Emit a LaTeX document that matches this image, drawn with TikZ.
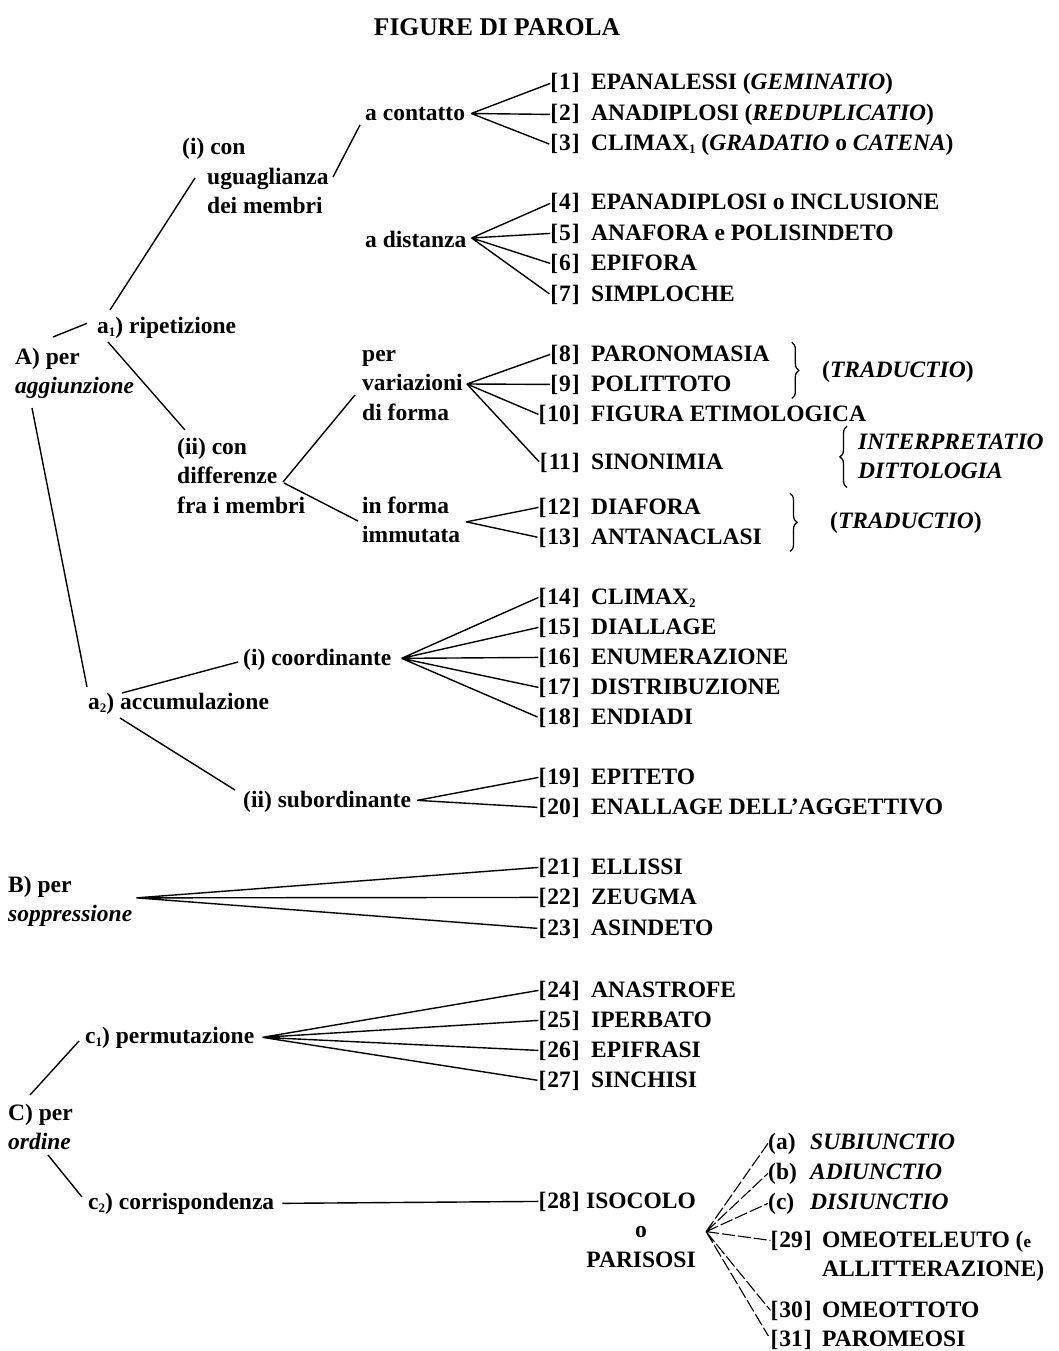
\documentclass[tikz,border=0pt]{standalone}
\usepackage{fontspec}
\setmainfont{Liberation Serif}
\usetikzlibrary{calc,decorations.pathreplacing}

\newcommand{\mlab}[1]{\begin{tabular}[t]{@{}l@{}}#1\end{tabular}}
\newcommand{\lowidx}[1]{\raisebox{-3pt}{\fontsize{13}{13}\selectfont #1}}

\tikzset{
  lab/.style={inner sep=0pt, anchor=base west},
  num/.style={inner sep=0pt, anchor=base east},
  edge/.style={line width=1.4pt},
  fan/.style={line width=1.4pt, shorten >=1pt},
  faint/.style={line width=1.1pt, dash pattern=on 13pt off 3pt, shorten >=4pt},
  curly/.style={decorate, decoration={brace, amplitude=7pt}, line width=1.3pt}
}

\begin{document}
\begin{tikzpicture}[x=1pt,y=-1pt,font=\fontsize{23.5}{29.5}\selectfont\bfseries]

    \useasboundingbox (0,0) rectangle (1058,1351);

    \node[anchor=base, font=\fontsize{25.5}{30}\selectfont\bfseries] (title) at (497,36) {FIGURE DI PAROLA};

    % left side: the classes
    \node[lab] (A) at (15,364) {\mlab{A) per\\\textit{aggiunzione}}};
    \node[lab] (a1) at (97,333) {a\lowidx{1}) ripetizione};
    \node[lab] (ui) at (182,155) {\mlab{(i) con\\\hspace*{25pt}uguaglianza\\\hspace*{25pt}dei membri}};
    \node[lab] (ac) at (365,121) {a contatto};
    \node[lab] (ad) at (365,247) {a distanza};
    \node[lab] (di) at (177,454) {\mlab{(ii) con\\differenze\\fra i membri}};
    \node[lab] (pv) at (362,361) {\mlab{per\\variazioni\\di forma}};
    \node[lab] (fi) at (362,513) {\mlab{in forma\\immutata}};
    \node[lab] (a2) at (88,709) {a\lowidx{2}) accumulazione};
    \node[lab] (co) at (243,665) {(i) coordinante};
    \node[lab] (su) at (243,807) {(ii) subordinante};
    \node[lab] (B) at (8,892) {\mlab{B) per\\\textit{soppressione}}};
    \node[lab] (C) at (8,1120) {\mlab{C) per\\\textit{ordine}}};
    \node[lab] (c1) at (85,1043) {c\lowidx{1}) permutazione};
    \node[lab] (c2) at (88,1209) {c\lowidx{2}) corrispondenza};

    % right side: the figures
    \node[num] (n1) at (580,90) {[\kern1pt1\kern1pt]};
    \node[lab] (t1) at (591,90) {EPANALESSI (\textit{GEMINATIO})};
    \node[num] (n2) at (580,121) {[\kern1pt2\kern1pt]};
    \node[lab] (t2) at (591,121) {ANADIPLOSI (\textit{REDUPLICATIO})};
    \node[num] (n3) at (580,151) {[\kern1pt3\kern1pt]};
    \node[lab] (t3) at (591,151) {CLIMAX\lowidx{1} (\textit{GRADATIO} o \textit{CATENA})};
    \node[num] (n4) at (580,210) {[\kern1pt4\kern1pt]};
    \node[lab] (t4) at (591,210) {EPANADIPLOSI o INCLUSIONE};
    \node[num] (n5) at (580,240) {[\kern1pt5\kern1pt]};
    \node[lab] (t5) at (591,240) {ANAFORA e POLISINDETO};
    \node[num] (n6) at (580,270) {[\kern1pt6\kern1pt]};
    \node[lab] (t6) at (591,270) {EPIFORA};
    \node[num] (n7) at (580,301) {[\kern1pt7\kern1pt]};
    \node[lab] (t7) at (591,301) {SIMPLOCHE};
    \node[num] (n8) at (580,361) {[\kern1pt8\kern1pt]};
    \node[lab] (t8) at (591,361) {PARONOMASIA};
    \node[num] (n9) at (580,391) {[\kern1pt9\kern1pt]};
    \node[lab] (t9) at (591,391) {POLITTOTO};
    \node[num] (n10) at (580,421) {[\kern1pt10\kern1pt]};
    \node[lab] (t10) at (591,421) {FIGURA ETIMOLOGICA};
    \node[num] (n11) at (580,469) {[\kern1pt11\kern1pt]};
    \node[lab] (t11) at (591,469) {SINONIMIA};
    \node[num] (n12) at (580,514) {[\kern1pt12\kern1pt]};
    \node[lab] (t12) at (591,514) {DIAFORA};
    \node[num] (n13) at (580,544) {[\kern1pt13\kern1pt]};
    \node[lab] (t13) at (591,544) {ANTANACLASI};
    \node[num] (n14) at (580,604) {[\kern1pt14\kern1pt]};
    \node[lab] (t14) at (591,604) {CLIMAX\lowidx{2}};
    \node[num] (n15) at (580,634) {[\kern1pt15\kern1pt]};
    \node[lab] (t15) at (591,634) {DIALLAGE};
    \node[num] (n16) at (580,664) {[\kern1pt16\kern1pt]};
    \node[lab] (t16) at (591,664) {ENUMERAZIONE};
    \node[num] (n17) at (580,694) {[\kern1pt17\kern1pt]};
    \node[lab] (t17) at (591,694) {DISTRIBUZIONE};
    \node[num] (n18) at (580,724) {[\kern1pt18\kern1pt]};
    \node[lab] (t18) at (591,724) {ENDIADI};
    \node[num] (n19) at (580,784) {[\kern1pt19\kern1pt]};
    \node[lab] (t19) at (591,784) {EPITETO};
    \node[num] (n20) at (580,814) {[\kern1pt20\kern1pt]};
    \node[lab] (t20) at (591,814) {ENALLAGE DELL'AGGETTIVO};
    \node[num] (n21) at (580,874) {[\kern1pt21\kern1pt]};
    \node[lab] (t21) at (591,874) {ELLISSI};
    \node[num] (n22) at (580,904) {[\kern1pt22\kern1pt]};
    \node[lab] (t22) at (591,904) {ZEUGMA};
    \node[num] (n23) at (580,935) {[\kern1pt23\kern1pt]};
    \node[lab] (t23) at (591,935) {ASINDETO};
    \node[num] (n24) at (580,997) {[\kern1pt24\kern1pt]};
    \node[lab] (t24) at (591,997) {ANASTROFE};
    \node[num] (n25) at (580,1027) {[\kern1pt25\kern1pt]};
    \node[lab] (t25) at (591,1027) {IPERBATO};
    \node[num] (n26) at (580,1057) {[\kern1pt26\kern1pt]};
    \node[lab] (t26) at (591,1057) {EPIFRASI};
    \node[num] (n27) at (580,1087) {[\kern1pt27\kern1pt]};
    \node[lab] (t27) at (591,1087) {SINCHISI};
    \node[num] (n28) at (580,1208) {[\kern1pt28\kern1pt]};
    \node[lab] (t28) at (586,1208) {\begin{tabular}[t]{@{}c@{}}ISOCOLO\\o\\PARISOSI\end{tabular}};

    % kinds of isocolo
    \node[lab] (sa) at (768,1149) {(a)};
    \node[lab] at (810,1149) {\textit{SUBIUNCTIO}};
    \node[lab] (sb) at (768,1179) {(b)};
    \node[lab] at (810,1179) {\textit{ADIUNCTIO}};
    \node[lab] (sc) at (768,1209) {(c)};
    \node[lab] at (810,1209) {\textit{DISIUNCTIO}};
    \node[num] (n29) at (812,1247) {[\kern1pt29\kern1pt]};
    \node[lab] (t29) at (822,1247) {\mlab{OMEOTELEUTO ({\fontsize{17}{20}\selectfont e}\\ALLITTERAZIONE)}};
    \node[num] (n30) at (812,1317) {[\kern1pt30\kern1pt]};
    \node[lab] (t30) at (822,1317) {OMEOTTOTO};
    \node[num] (n31) at (812,1346) {[\kern1pt31\kern1pt]};
    \node[lab] (t31) at (822,1346) {PAROMEOSI};

    % latin names beside the braces
    \node[lab] (tr1) at (822,377) {(\textit{TRADUCTIO})};
    \node[lab] (ip) at (858,449) {\mlab{\textit{INTERPRETATIO}\\\textit{DITTOLOGIA}}};
    \node[lab] (tr2) at (830,528) {(\textit{TRADUCTIO})};
    \coordinate (b1) at ($(t8.east)+(22,0)$);
    \coordinate (b2) at ($(t13.east)+(28,0)$);
    \draw[curly] ($(b1 |- t8.north)+(0,-3)$) -- ($(b1 |- t9.south)+(0,7)$);
    \draw[curly] ($(ip.south west)+(-11,0)$) -- ($(ip.north west)+(-11,-2)$);
    \draw[curly] ($(b2 |- t12.north)+(0,-5)$) -- ($(b2 |- t13.south)+(0,7)$);

    % the tree
    \draw[edge] ($(A.base west)+(38,-27)$) -- ($(a1.west)+(-10,-4)$);
    \draw[edge] ($(A.base west)+(17,44)$) -- ($(a2.base west)+(-1,-22)$);
    \draw[edge] ($(a1.base west)+(13,-23)$) -- ($(ui.base west)+(13,23)$);
    \draw[edge] ($(a1.base west)+(11,9)$) -- ($(di.base west)+(8,-24)$);
    \draw[edge] ($(ui.base west)+(151,22)$) -- ($(ac.base west)+(-5,4)$);
    \draw[edge] ($(di.base west)+(106,28)$) -- ($(pv.base west)+(-7,34)$);
    \draw[edge] ($(di.base west)+(107,29)$) -- ($(fi.base west)+(-4,8)$);
    \draw[edge] ($(a2.base west)+(34,-16)$) -- ($(co.base west)+(-5,-3)$);
    \draw[edge] ($(a2.base west)+(32,9)$) -- ($(su.base west)+(-8,-17)$);
    \draw[edge] ($(C.base west)+(22,-25)$) -- ($(c1.base west)+(-6,-2)$);
    \draw[edge] ($(C.base west)+(40,35)$) -- ($(c2.base west)+(-6,-12)$);
    \draw[edge] ($(c2.east)+(8,0)$) -- (n28.west);

    % fan points
    \coordinate (jac) at ($(ac.east)+(6,-1)$);
    \coordinate (jad) at ($(ad.east)+(5,-1)$);
    \coordinate (jpv) at ($(pv.base east)+(4,23)$);
    \coordinate (jfi) at ($(fi.east)+(6,0)$);
    \coordinate (jco) at ($(co.east)+(10,-1)$);
    \coordinate (jsu) at ($(su.east)+(6,-1)$);
    \coordinate (jB) at ($(B.east)+(4,-3)$);
    \coordinate (jc1) at ($(c1.east)+(8,0)$);
    \coordinate (j28) at ($(t28.east)+(10,0)$);

    \draw[fan] (jac) -- (n1.west) (jac) -- (n2.west) (jac) -- (n3.west);
    \draw[fan] (jad) -- (n4.west) (jad) -- (n5.west) (jad) -- (n6.west) (jad) -- (n7.west);
    \draw[fan] (jpv) -- (n8.west) (jpv) -- (n9.west) (jpv) -- (n10.west) (jpv) -- (n11.west);
    \draw[fan] (jfi) -- (n12.west) (jfi) -- (n13.west);
    \draw[fan] (jco) -- (n14.west) (jco) -- (n15.west) (jco) -- (n16.west) (jco) -- (n17.west) (jco) -- (n18.west);
    \draw[fan] (jsu) -- (n19.west) (jsu) -- (n20.west);
    \draw[fan] (jB) -- (n21.west) (jB) -- (n22.west) (jB) -- (n23.west);
    \draw[fan] (jc1) -- (n24.west) (jc1) -- (n25.west) (jc1) -- (n26.west) (jc1) -- (n27.west);
    \draw[faint] (j28) -- (sa.west) (j28) -- (sb.west) (j28) -- (sc.west)
                 (j28) -- (n29.west) (j28) -- (n30.west) (j28) -- (n31.west);

\end{tikzpicture}
\end{document}
